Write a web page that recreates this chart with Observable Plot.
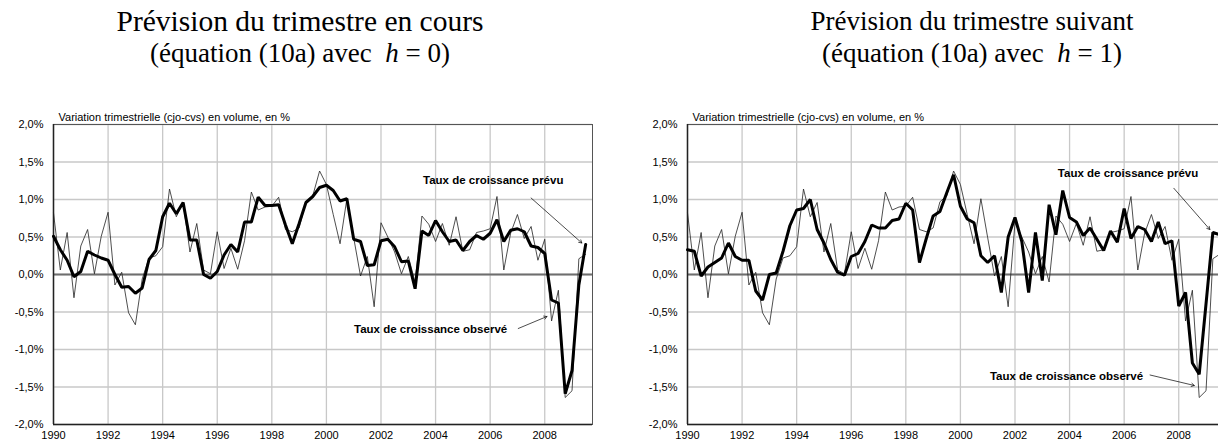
<!DOCTYPE html>
<html>
<head>
<meta charset="utf-8">
<script src="https://cdn.jsdelivr.net/npm/d3@7"></script>
<script src="https://cdn.jsdelivr.net/npm/@observablehq/plot@0.6"></script>
<style>
  html, body { margin: 0; padding: 0; background: #fff; overflow: hidden; width: 1218px; height: 443px; }
  #root { position: relative; width: 1218px; height: 443px; overflow: hidden; }
  .title { position: absolute; top: 5px; width: 600px; text-align: center;
           font-family: "Liberation Serif", "Times New Roman", serif; color: #000; }
  .title .l1 { font-size: 29.5px; line-height: 33px; white-space: nowrap; }
  .title .l1.small { font-size: 27px; }
  .title .l2 { font-size: 27px; line-height: 31px; white-space: nowrap; }
  .panel { position: absolute; top: 96px; width: 609px; height: 347px; }
  .panel svg { max-width: none !important; width: 609px; height: 347px; }
</style>
</head>
<body>
<div id="root">
  <div class="title" style="left:0px"><div class="l1">Prévision du trimestre en cours</div><div class="l2">(équation (10a) avec&nbsp; <i>h</i> = 0)</div></div>
  <div class="title" style="left:672px"><div class="l1 small">Prévision du trimestre suivant</div><div class="l2">(équation (10a) avec&nbsp; <i>h</i> = 1)</div></div>
  <div class="panel" id="p0" style="left:0px"></div>
  <div class="panel" id="p1" style="left:634px"></div>
</div>
<script>
// Quarterly data, 1990Q1 .. 2009Q3 (%, quarter-on-quarter growth)
const startYear = 1990;
const observed = [
  0.82, 0.06, 0.56, -0.31, 0.38, 0.60, 0.01, 0.51, 0.83, -0.14,
  0.03, -0.51, -0.67, -0.06, 0.22, 0.25, 0.37, 1.14, 0.77, 0.96,
  0.30, 0.68, 0.06, 0.01, 0.57, 0.08, 0.35, 0.07, 0.45, 1.10,
  0.86, 0.90, 0.91, 1.03, 0.60, 0.57, 0.62, 0.97, 1.05, 1.38,
  1.20, 0.80, 0.41, 1.01, 0.49, -0.02, 0.24, -0.43, 0.69, 0.50,
  0.30, 0.01, 0.24, -0.10, 0.78, 0.67, 0.44, 0.68, 0.39, 0.77,
  0.31, 0.33, 0.56, 0.58, 0.61, 1.04, 0.06, 0.55, 0.80, 0.48,
  0.64, 0.19, 0.47, -0.62, -0.21, -1.64, -1.55, 0.21, 0.27
];
const predictedH0 = [
  0.51, 0.33, 0.19, -0.03, 0.04, 0.31, 0.26, 0.22, 0.19, 0.00,
  -0.17, -0.16, -0.25, -0.18, 0.20, 0.32, 0.77, 0.95, 0.81, 0.96,
  0.46, 0.46, 0.00, -0.05, 0.04, 0.26, 0.40, 0.30, 0.70, 0.70,
  1.03, 0.92, 0.92, 0.93, 0.66, 0.41, 0.68, 0.96, 1.04, 1.16,
  1.19, 1.12, 0.98, 1.01, 0.47, 0.44, 0.12, 0.13, 0.45, 0.47,
  0.37, 0.17, 0.18, -0.19, 0.58, 0.52, 0.72, 0.57, 0.44, 0.46,
  0.32, 0.44, 0.52, 0.47, 0.55, 0.73, 0.44, 0.59, 0.61, 0.57,
  0.38, 0.36, 0.28, -0.34, -0.38, -1.59, -1.28, -0.14, 0.40
];
const predictedH1 = [
  0.33, 0.31, -0.02, 0.10, 0.16, 0.22, 0.42, 0.24, 0.19, 0.19,
  -0.22, -0.34, 0.00, 0.02, 0.31, 0.65, 0.86, 0.88, 1.00, 0.60,
  0.42, 0.20, 0.03, -0.01, 0.24, 0.28, 0.44, 0.66, 0.62, 0.62,
  0.72, 0.74, 0.95, 0.86, 0.16, 0.48, 0.78, 0.84, 1.09, 1.33,
  0.91, 0.74, 0.69, 0.25, 0.16, 0.25, -0.24, 0.50, 0.76, 0.44,
  -0.24, 0.56, -0.08, 0.93, 0.53, 1.12, 0.76, 0.70, 0.52, 0.62,
  0.47, 0.32, 0.58, 0.43, 0.88, 0.48, 0.64, 0.60, 0.44, 0.70,
  0.41, 0.45, -0.42, -0.24, -1.18, -1.33, -0.39, 0.56, 0.53
];
const xTicks = [1990, 1992, 1994, 1996, 1998, 2000, 2002, 2004, 2006, 2008];
const yTicks = [-2, -1.5, -1, -0.5, 0, 0.5, 1, 1.5, 2];
const subtitle = "Variation trimestrielle (cjo-cvs) en volume, en %";
const labelPrevu = "Taux de croissance prévu";
const labelObserve = "Taux de croissance observé";

// Annotation anchors (in data units: year, %)
const annotH0 = {
  prevuText: [2003.54, 1.26], prevuArrow: [2007.50, 1.02, 2009.36, 0.42],
  observeText: [2001.01, -0.73], observeArrow: [2007.03, -0.72, 2008.08, -0.56]
};
const annotH1 = {
  prevuText: [2003.57, 1.35], prevuArrow: [2007.82, 1.15, 2009.14, 0.60],
  observeText: [2001.08, -1.36], observeArrow: [2006.95, -1.34, 2008.57, -1.48]
};

const t = (i) => startYear + i / 4;
const fmtPct = (d) => d.toFixed(1).replace(".", ",") + "%";

function panel(pred, ann) {
  const obsRows = observed.map((v, i) => ({x: t(i), y: v}));
  const predRows = pred.map((v, i) => ({x: t(i), y: v}));
  return Plot.plot({
    width: 609,
    height: 347,
    marginLeft: 53,
    marginRight: 17,
    marginTop: 28,
    marginBottom: 19,
    style: {fontFamily: "'Liberation Sans', Arial, sans-serif", fontSize: "11px", color: "#000", background: "transparent", overflow: "visible"},
    x: {domain: [1990, 2009.75], axis: null},
    y: {domain: [-2, 2], axis: null},
    marks: [
      Plot.gridY(yTicks, {stroke: "#c8c8c8", strokeOpacity: 1, strokeWidth: 1.3}),
      Plot.gridX(xTicks, {stroke: "#c8c8c8", strokeOpacity: 1, strokeWidth: 1.3}),
      Plot.frame({stroke: "#555", strokeWidth: 1}),
      Plot.ruleY([0], {stroke: "#6e6e6e", strokeWidth: 1.8}),
      Plot.ruleX([1990], {stroke: "#222", strokeWidth: 1.5}),
      Plot.ruleY([-2], {stroke: "#222", strokeWidth: 1.5}),
      Plot.axisX({ticks: xTicks, tickSize: 0, tickPadding: 7, tickFormat: (d) => String(d), fontSize: 11, label: null}),
      Plot.axisY({ticks: yTicks, tickSize: 0, tickPadding: 10, tickFormat: fmtPct, fontSize: 11, label: null}),
      Plot.line(obsRows, {x: "x", y: "y", stroke: "#222", strokeWidth: 0.8}),
      Plot.line(predRows, {x: "x", y: "y", stroke: "#000", strokeWidth: 3, strokeLinejoin: "miter"}),
      Plot.text([subtitle], {frameAnchor: "top-left", dx: 5, dy: -7, textAnchor: "start", lineAnchor: "middle", fontSize: 11}),
      Plot.text([labelPrevu], {x: ann.prevuText[0], y: ann.prevuText[1], textAnchor: "start", lineAnchor: "middle", fontWeight: "bold", fontSize: 11.5}),
      Plot.text([labelObserve], {x: ann.observeText[0], y: ann.observeText[1], textAnchor: "start", lineAnchor: "middle", fontWeight: "bold", fontSize: 11.5}),
      Plot.arrow([ann.prevuArrow], {x1: (d) => d[0], y1: (d) => d[1], x2: (d) => d[2], y2: (d) => d[3], stroke: "#000", strokeWidth: 0.7, headLength: 7}),
      Plot.arrow([ann.observeArrow], {x1: (d) => d[0], y1: (d) => d[1], x2: (d) => d[2], y2: (d) => d[3], stroke: "#000", strokeWidth: 0.7, headLength: 7})
    ]
  });
}

document.getElementById("p0").appendChild(panel(predictedH0, annotH0));
document.getElementById("p1").appendChild(panel(predictedH1, annotH1));
</script>
</body>
</html>
